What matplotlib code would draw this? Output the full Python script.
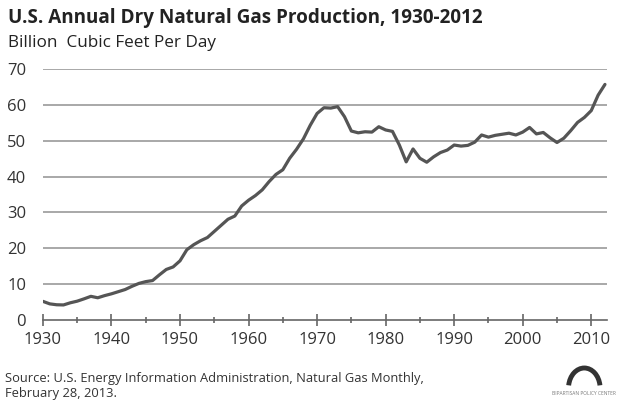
import numpy as np
import matplotlib.pyplot as plt
from matplotlib.patches import Arc

plt.rcParams['font.family'] = ['Open Sans', 'DejaVu Sans']

# U.S. dry natural gas production, billion cubic feet per day
years = np.arange(1930, 2013)
bcfd = [5.2, 4.5, 4.25, 4.2, 4.8, 5.25, 5.9, 6.6, 6.2, 6.8,
        7.3, 7.9, 8.5, 9.4, 10.2, 10.7, 11.0, 12.6, 14.1, 14.8,
        16.5, 19.6, 21.0, 22.1, 23.0, 24.7, 26.4, 28.1, 29.0, 31.8,
        33.4, 34.7, 36.3, 38.6, 40.6, 41.9, 45.1, 47.6, 50.5, 54.3,
        57.6, 59.2, 59.1, 59.5, 56.7, 52.7, 52.2, 52.5, 52.4, 53.9,
        53.0, 52.6, 48.8, 44.1, 47.7, 45.1, 44.0, 45.5, 46.7, 47.4,
        48.8, 48.5, 48.7, 49.6, 51.6, 51.0, 51.5, 51.8, 52.1, 51.6,
        52.4, 53.7, 51.9, 52.3, 50.8, 49.5, 50.7, 52.8, 55.1, 56.5,
        58.4, 62.7, 65.7]

xticks = [1930, 1940, 1950, 1960, 1970, 1980, 1990, 2000, 2010]
yticks = [0, 10, 20, 30, 40, 50, 60, 70]

fig = plt.figure(figsize=(6.31, 4.0), dpi=100)
ax = fig.add_axes([0.068, 0.2, 0.894, 0.6275])

for y in yticks[1:]:
    ax.axhline(y, color='#a8a8a8', lw=1.4, zorder=1)

ax.plot(years, bcfd, color='#555555', lw=2.3, zorder=3, solid_capstyle='round')

ax.set_xlim(1930, 2012.3)
ax.set_ylim(0, 70)
ax.set_xticks(xticks)
ax.set_xticks(np.arange(1935, 2012, 10), minor=True)
ax.set_yticks(yticks)

for s in ['top', 'right', 'left']:
    ax.spines[s].set_visible(False)
ax.spines['bottom'].set_color('#666666')
ax.spines['bottom'].set_linewidth(1.2)
ax.tick_params(axis='x', which='major', direction='inout', length=9, width=1.2,
               color='#666666', labelsize=12, labelcolor='#333333', pad=4)
ax.tick_params(axis='x', which='minor', direction='inout', length=5, width=1.2,
               color='#666666')
ax.tick_params(axis='y', length=0, labelsize=12, labelcolor='#333333', pad=12)

fig.text(0.013, 0.955, 'U.S. Annual Dry Natural Gas Production, 1930-2012',
         fontsize=13.6, fontweight='bold', color='#222222', va='center')
fig.text(0.013, 0.893, 'Billion  Cubic Feet Per Day', fontsize=12.3,
         color='#222222', va='center')
fig.text(0.008, 0.036, 'Source: U.S. Energy Information Administration, Natural Gas Monthly,\nFebruary 28, 2013.',
         fontsize=9.3, color='#333333', va='center', linespacing=1.2)

# logo
fig.patches.append(Arc((0.926, 0.03), 0.05, 0.1, theta1=15, theta2=165,
                       transform=fig.transFigure, color='#333333', lw=3.5))
fig.text(0.926, 0.016, 'BIPARTISAN POLICY CENTER', fontsize=3.5,
         color='#777777', ha='center', va='center')

plt.savefig('out.png', dpi=100)
